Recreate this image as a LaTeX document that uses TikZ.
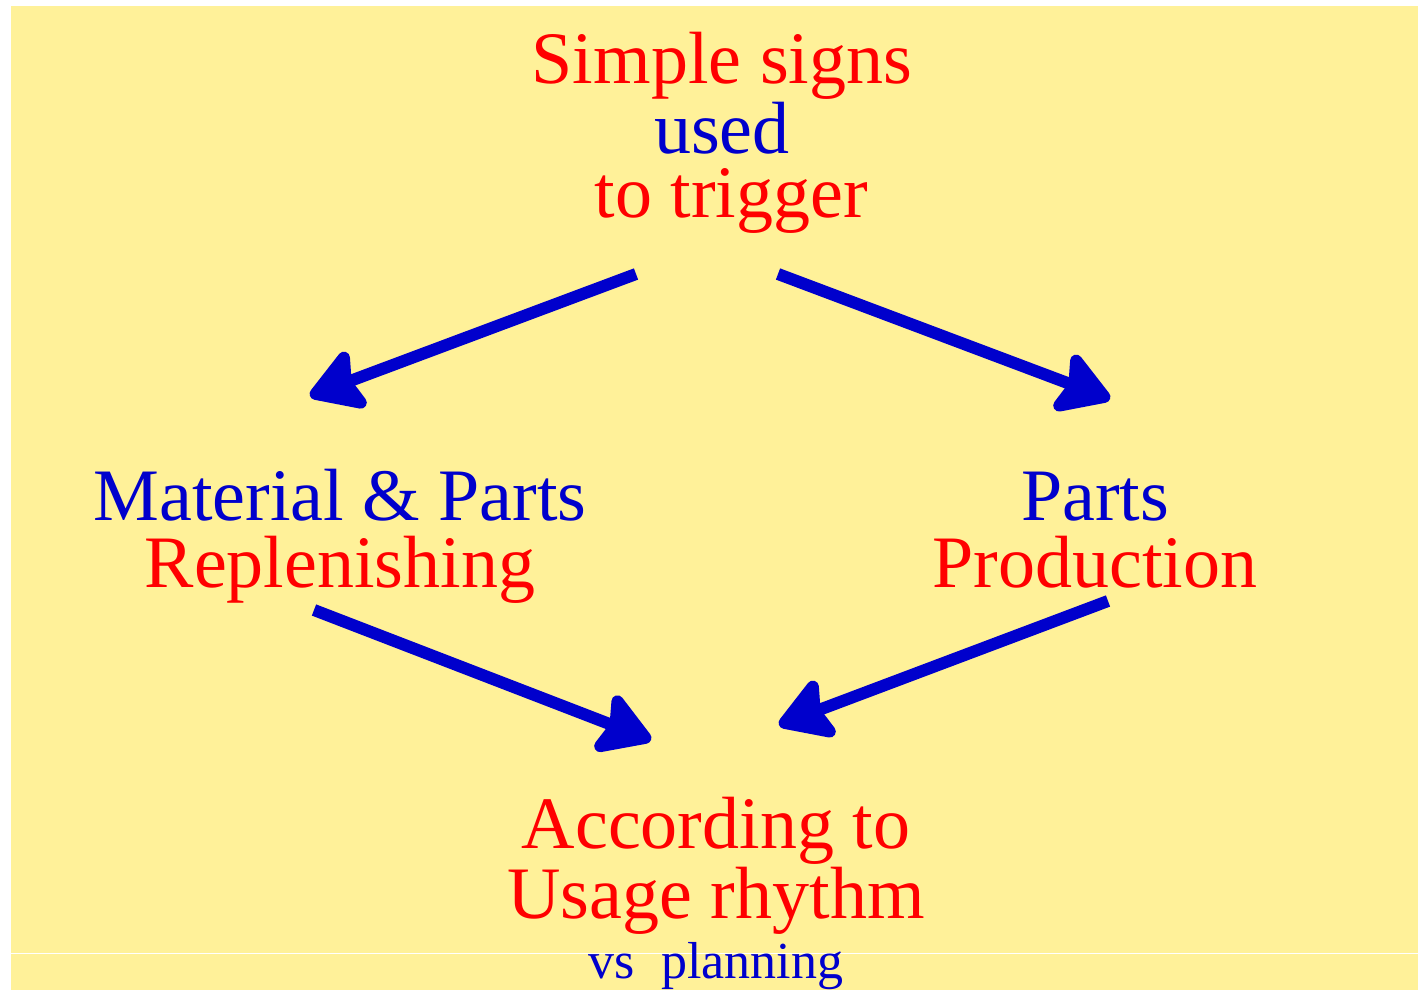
\documentclass[tikz,border=0pt]{standalone}
\usepackage{fontspec}
\setmainfont{Liberation Serif}
\usetikzlibrary{arrows.meta}

\definecolor{padyellow}{RGB}{255,241,153}
\definecolor{signblue}{RGB}{0,0,204}
\definecolor{signred}{RGB}{255,0,0}

\tikzset{
  bigtext/.style={align=center, anchor=base, inner sep=0pt, font=\fontsize{37}{33}\selectfont},
  flow/.style={draw=signblue, line width=6pt, -{Stealth[length=30pt, width=36pt, inset=5pt, round]}},
}

\begin{document}
\begin{tikzpicture}[x=0.5pt, y=-0.5pt]
\useasboundingbox (0,0) rectangle (1418,990);
\fill[padyellow] (11,6) rectangle (1418,990);
\draw[white, line width=0.8pt] (11,953.5) -- (1418,953.5);

% base anchor sits on the last line
\node[bigtext, font=\fontsize{37}{32}\selectfont] (signs) at (722,217) {\textcolor{signred}{Simple signs}\\ \textcolor{signblue}{used}\\ \textcolor{signred}{\ to trigger}};
\node[bigtext, font=\fontsize{37}{33.5}\selectfont] (repl) at (340,587) {\textcolor{signblue}{Material \& Parts}\\ \textcolor{signred}{Replenishing}};
\node[bigtext, font=\fontsize{37}{33.5}\selectfont] (prod) at (1095,587) {\textcolor{signblue}{Parts}\\ \textcolor{signred}{Production}};
\node[bigtext] (usage) at (716,978) {\textcolor{signred}{According to}\\ \textcolor{signred}{Usage rhythm}\\[-3pt] {\fontsize{26}{30}\selectfont\textcolor{signblue}{vs~~planning}}};

\coordinate (signs-l) at (636,274);
\coordinate (signs-r) at (778,274);
\coordinate (repl-in) at (310,396);
\coordinate (repl-out) at (314,610);
\coordinate (prod-in) at (1110,399);
\coordinate (prod-out) at (1108,601);
\coordinate (usage-l) at (651,740);
\coordinate (usage-r) at (779,725);

\draw[flow] (signs-l) -- (repl-in);
\draw[flow] (signs-r) -- (prod-in);
\draw[flow] (repl-out) -- (usage-l);
\draw[flow] (prod-out) -- (usage-r);
\end{tikzpicture}
\end{document}
